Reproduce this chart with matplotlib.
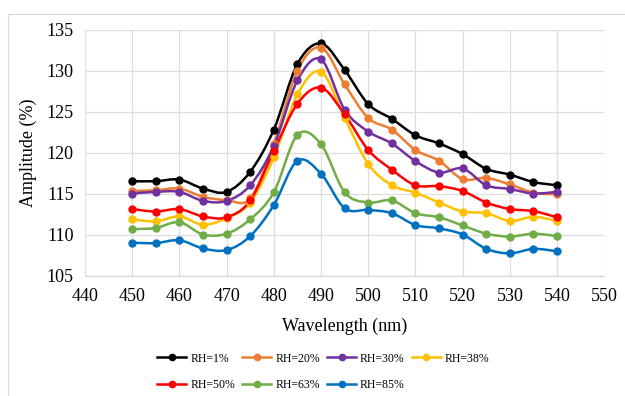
import numpy as np
import matplotlib
matplotlib.use("Agg")
import matplotlib.pyplot as plt
from matplotlib.path import Path
from matplotlib.patches import PathPatch, Rectangle
from matplotlib.lines import Line2D

plt.rcParams['font.family'] = ['Liberation Serif', 'DejaVu Serif']

wavelength = [450, 455, 460, 465, 470, 475, 480, 485, 490, 495, 500, 505, 510, 515, 520, 525, 530, 535, 540]

rh1 = [116.5, 116.5, 116.7, 115.6, 115.2, 117.65, 122.8, 130.8, 133.3, 130.05, 125.9, 124.1, 122.1, 121.1, 119.8, 118.0, 117.3, 116.4, 116.0]
rh20 = [115.3, 115.4, 115.6, 114.6, 114.2, 114.4, 121.05, 130.0, 132.8, 128.3, 124.2, 122.8, 120.3, 119.0, 116.75, 116.9, 116.1, 115.1, 114.9]
rh30 = [115.0, 115.2, 115.2, 114.1, 114.1, 116.0, 120.8, 128.8, 131.35, 125.2, 122.55, 121.1, 118.95, 117.55, 118.05, 116.0, 115.55, 115.0, 115.2]
rh38 = [111.85, 111.6, 112.2, 111.2, 112.0, 113.9, 119.4, 127.1, 129.85, 124.2, 118.6, 116.0, 115.1, 113.9, 112.8, 112.6, 111.65, 112.15, 111.65]
rh50 = [113.1, 112.8, 113.1, 112.2, 112.1, 114.15, 120.2, 125.95, 127.9, 124.65, 120.3, 117.9, 116.0, 115.9, 115.3, 113.9, 113.1, 112.85, 112.1]
rh63 = [110.65, 110.8, 111.5, 110.0, 110.1, 111.85, 115.15, 122.15, 121.0, 115.15, 113.9, 114.15, 112.6, 112.1, 111.1, 110.1, 109.75, 110.1, 109.8]
rh85 = [109.0, 108.95, 109.3, 108.3, 108.1, 109.8, 113.6, 119.0, 117.4, 113.2, 113.0, 112.6, 111.15, 110.75, 110.0, 108.25, 107.7, 108.25, 107.95]

labels = ["RH=1%", "RH=20%", "RH=30%", "RH=38%", "RH=50%", "RH=63%", "RH=85%"]
series = [rh1, rh20, rh30, rh38, rh50, rh63, rh85]
colors = ["#000000", "#ED7D31", "#7030A0", "#FFC000", "#FF0000", "#70AD47", "#0070C0"]

xticks = list(range(440, 551, 10))
yticks = list(range(105, 136, 5))


def smooth_path(x, y):
    """Excel-like smoothed line: Catmull-Rom converted to cubic Bezier."""
    x = np.asarray(x, float)
    y = np.asarray(y, float)
    n = len(x)
    verts = [(x[0], y[0])]
    codes = [Path.MOVETO]
    for i in range(n - 1):
        p0 = (x[i - 1], y[i - 1]) if i > 0 else (x[i], y[i])
        p1 = (x[i], y[i])
        p2 = (x[i + 1], y[i + 1])
        p3 = (x[i + 2], y[i + 2]) if i + 2 < n else (x[i + 1], y[i + 1])
        c1 = (p1[0] + (p2[0] - p0[0]) / 6.0, p1[1] + (p2[1] - p0[1]) / 6.0)
        c2 = (p2[0] - (p3[0] - p1[0]) / 6.0, p2[1] - (p3[1] - p1[1]) / 6.0)
        verts += [c1, c2, p2]
        codes += [Path.CURVE4] * 3
    return Path(verts, codes)


W, H = 625, 396
fig = plt.figure(figsize=(W / 100, H / 100), dpi=100)
fig.patches.append(Rectangle((8 / W, -0.1), 1.2, 1.1 - 13.5 / H,
                             transform=fig.transFigure, fill=False,
                             edgecolor="#d9d9d9", linewidth=0.8))
ax = fig.add_axes([85 / W, (H - 275.5) / H, (604.3 - 85) / W, (275.5 - 29.5) / H])

handles = []
for vals, lab, col in zip(series, labels, colors):
    patch = PathPatch(smooth_path(wavelength, vals), facecolor="none",
                      edgecolor=col, linewidth=1.8, zorder=3)
    ax.add_patch(patch)
    ax.plot(wavelength, vals, linestyle="none", marker="o", markersize=5,
            color=col, zorder=4)
    handles.append(Line2D([], [], color=col, linewidth=1.8, marker="o",
                          markersize=4.5, label=lab))

ax.set_xlim(440, 550)
ax.set_ylim(105, 135)
ax.set_xticks(xticks)
ax.set_yticks(yticks)
ax.tick_params(axis="both", length=0, labelsize=13)
ax.tick_params(axis="x", pad=9)
ax.tick_params(axis="y", pad=8)
ax.grid(True, color="#dedede", linewidth=0.9)
ax.set_axisbelow(True)
for s in ["left", "right", "top"]:
    ax.spines[s].set_visible(False)
ax.spines["bottom"].set_color("#d9d9d9")
ax.spines["bottom"].set_linewidth(0.9)
ax.set_xlabel("Wavelength (nm)", fontsize=13, labelpad=9)
ax.set_ylabel("Amplitude (%)", fontsize=13, labelpad=7)

order = [0, 4, 1, 5, 2, 6, 3]
leg = fig.legend([handles[i] for i in order], [labels[i] for i in order],
                 ncol=4, loc="center", bbox_to_anchor=(0.5176, 0.0615),
                 frameon=False, fontsize=8.5, handlelength=2.45,
                 columnspacing=0.6, handletextpad=0.35, labelspacing=1.2)

fig.savefig("out.png", dpi=100)
